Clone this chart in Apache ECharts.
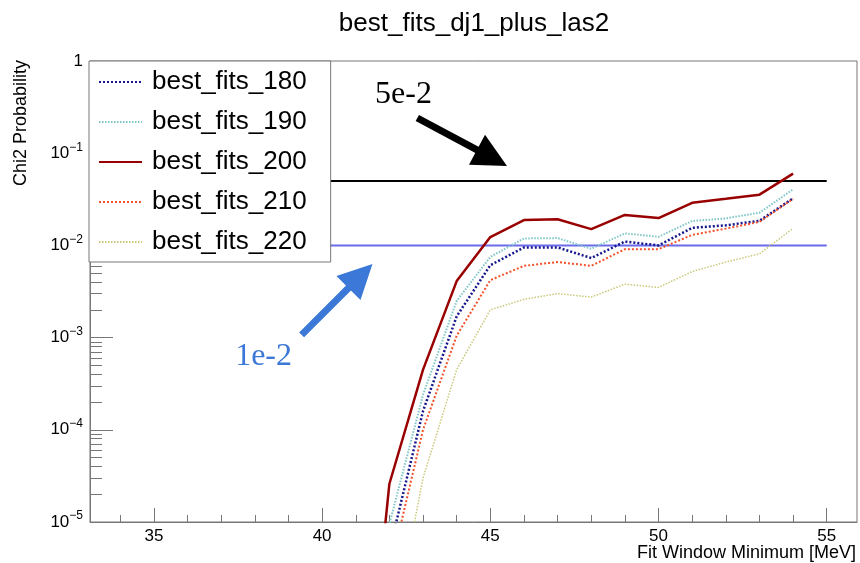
<!DOCTYPE html>
<html>
<head>
<meta charset="utf-8">
<script src="https://cdn.jsdelivr.net/npm/echarts@6/dist/echarts.min.js"></script>
<style>
  html, body { margin: 0; padding: 0; background: #fff; }
  #chart { width: 860px; height: 563px; }
</style>
</head>
<body>
<div id="chart"></div>
<script>
// fit window minimum (MeV)
const fitMin = [41, 42, 43, 44, 45, 46, 47, 48, 49, 50, 51, 52, 53, 54];

// chi2 probabilities (points below 1e-5 are rough guesses)
const fits180 = [1e-9, 4.9e-6, 1.6e-4, 1.7e-3, 6.1e-3, 9.5e-3, 9.5e-3, 7.3e-3, 1.1e-2, 1.0e-2, 1.55e-2, 1.65e-2, 1.85e-2, 3.24e-2];
const fits190 = [2e-9, 9.5e-6, 2.4e-4, 2.5e-3, 7.5e-3, 1.19e-2, 1.2e-2, 9.2e-3, 1.35e-2, 1.24e-2, 1.84e-2, 1.96e-2, 2.26e-2, 4.06e-2];
const fits200 = [7e-9, 2.6e-5, 4.5e-4, 4.1e-3, 1.23e-2, 1.88e-2, 1.92e-2, 1.5e-2, 2.14e-2, 1.98e-2, 2.9e-2, 3.2e-2, 3.55e-2, 6.0e-2];
const fits210 = [5e-10, 2.8e-6, 1.0e-4, 1.05e-3, 4.2e-3, 6.0e-3, 6.6e-3, 6.0e-3, 9.1e-3, 9.1e-3, 1.3e-2, 1.52e-2, 1.8e-2, 3.2e-2];
const fits220 = [1e-10, 4e-7, 3e-5, 4.5e-4, 2.0e-3, 2.6e-3, 3.0e-3, 2.75e-3, 3.8e-3, 3.5e-3, 5.2e-3, 6.6e-3, 8.1e-3, 1.53e-2];

// axes
const xRange = [33.1, 55.9];
const xMajorTicks = [35, 40, 45, 50, 55];
const xMinorTicks = [34, 36, 37, 38, 39, 41, 42, 43, 44, 46, 47, 48, 49, 51, 52, 53, 54];
const yRange = [1e-5, 1];
const yDecades = [-5, -4, -3, -2, -1];
const yMantissas = [2, 3, 4, 5, 6, 7, 8, 9];

// threshold lines + annotations
const refLevels = [0.05, 0.01];
const refLabels = ['5e-2', '1e-2'];
const refXRange = [33.1, 55];
const arrow5e2 = [[42.83, 0.241], [45.05, 0.089]];
const arrow1e2 = [[39.39, 1.07e-3], [41.14, 4.66e-3]];
const label5e2 = [42.42, 0.428];
const label1e2 = [38.26, 6.3e-4];

const FONT = 'Liberation Sans, Arial, sans-serif';
const SERIF = 'Liberation Serif, Times New Roman, serif';
const AXIS = '#777';

const fits = [
    { name: 'best_fits_180', values: fits180, color: '#15158c', width: 2.5, dash: [2, 2] },
    { name: 'best_fits_190', values: fits190, color: '#7ec6c6', width: 2, dash: [1.5, 1.5] },
    { name: 'best_fits_200', values: fits200, color: '#990000', width: 2.5, dash: 'solid' },
    { name: 'best_fits_210', values: fits210, color: '#f2522a', width: 2, dash: [2, 2] },
    { name: 'best_fits_220', values: fits220, color: '#c9c878', width: 1.5, dash: [1.5, 1.5] }
];

// minor ticks of the log axis, in log10 space for the overlay axis
const yMinorLog = [];
yDecades.forEach(e => yMantissas.forEach(m => yMinorLog.push(Math.log10(m) + e)));

const chart = echarts.init(document.getElementById('chart'), null, { renderer: 'canvas' });

const fitSeries = fits.map(f => ({
    name: f.name,
    type: 'line',
    data: fitMin.map((x, i) => [x, f.values[i]]),
    symbol: 'none',
    clip: true,
    z: 5,
    lineStyle: { color: f.color, width: f.width, type: f.dash, cap: 'butt' },
    itemStyle: { color: f.color }
}));

const refColors = ['#000000', '#6b6bec'];
const arrowColors = ['#000000', '#3b78d8'];
const arrows = [arrow5e2, arrow1e2];
const labels = [label5e2, label1e2];

const refSeries = refLevels.map((lvl, k) => ({
    name: 'ref' + k,
    type: 'line',
    data: refXRange.map(x => [x, lvl]),
    symbol: 'none',
    z: 3,
    silent: true,
    lineStyle: { color: refColors[k], width: 2 },
    markLine: {
        silent: true,
        symbol: ['none', 'triangle'],
        symbolSize: 34,
        label: { show: false },
        lineStyle: { color: arrowColors[k], width: 7, type: 'solid' },
        itemStyle: { color: arrowColors[k] },
        data: [[{ coord: arrows[k][0] }, { coord: arrows[k][1] }]]
    },
    markPoint: {
        silent: true,
        symbol: 'circle',
        symbolSize: 0,
        label: {
            show: true,
            position: 'inside',
            formatter: '{b}',
            fontFamily: SERIF,
            fontSize: 32,
            color: arrowColors[k]
        },
        data: [{ name: refLabels[k], coord: labels[k] }]
    }
}));

chart.setOption({
    animation: false,
    backgroundColor: '#fff',
    title: {
        text: 'best_fits_dj1_plus_las2',
        left: 474,
        top: 11,
        padding: 0,
        textAlign: 'center',
        textStyle: { fontFamily: FONT, fontSize: 26, fontWeight: 'normal', color: '#000' }
    },
    legend: {
        data: fits.map(f => f.name),
        orient: 'vertical',
        left: 89,
        top: 61,
        padding: [6, 24, 5, 9],
        itemWidth: 43,
        itemHeight: 14,
        itemGap: 10,
        backgroundColor: '#fff',
        borderColor: AXIS,
        borderWidth: 1,
        borderRadius: 0,
        selectedMode: false,
        itemStyle: { opacity: 0 },
        textStyle: { fontFamily: FONT, fontSize: 26, lineHeight: 30, color: '#000', padding: [0, 0, 0, 5] }
    },
    grid: {
        left: 90, right: 3, top: 61, bottom: 41,
        show: true, borderColor: AXIS, borderWidth: 1, backgroundColor: 'transparent'
    },
    xAxis: [
        {
            type: 'value',
            min: xRange[0], max: xRange[1],
            position: 'bottom',
            axisLine: { show: true, onZero: false, lineStyle: { color: AXIS, width: 1 } },
            axisTick: { show: true, inside: true, length: 14, customValues: xMajorTicks, lineStyle: { color: AXIS } },
            axisLabel: { customValues: xMajorTicks, margin: 6, fontFamily: FONT, fontSize: 17, color: '#000' },
            splitLine: { show: false }
        },
        {
            type: 'value',
            min: xRange[0], max: xRange[1],
            position: 'bottom',
            axisLine: { show: false, onZero: false },
            axisTick: { show: true, inside: true, length: 7, customValues: xMinorTicks, lineStyle: { color: AXIS } },
            axisLabel: { show: false },
            splitLine: { show: false }
        }
    ],
    yAxis: [
        {
            type: 'log',
            logBase: 10,
            min: yRange[0], max: yRange[1],
            position: 'left',
            axisLine: { show: true, onZero: false, lineStyle: { color: AXIS, width: 1 } },
            axisTick: { show: true, inside: true, length: 23, lineStyle: { color: AXIS } },
            axisLabel: {
                margin: 7,
                formatter: v => {
                    const e = Math.round(Math.log10(v));
                    return e === 0 ? '{b|1}' : '{b|10}{s|\u2212' + (-e) + '}';
                },
                rich: {
                    b: { fontFamily: FONT, fontSize: 17, lineHeight: 24, color: '#000' },
                    s: { fontFamily: FONT, fontSize: 12, lineHeight: 12, verticalAlign: 'top', color: '#000' }
                }
            },
            splitLine: { show: false }
        },
        {
            type: 'value',
            min: -5, max: 0,
            position: 'left',
            axisLine: { show: false, onZero: false },
            axisTick: { show: true, inside: true, length: 12, customValues: yMinorLog, lineStyle: { color: AXIS } },
            axisLabel: { show: false },
            splitLine: { show: false }
        }
    ],
    graphic: [
        {
            type: 'text', x: 21, y: 60, rotation: Math.PI / 2,
            style: { text: 'Chi2 Probability', font: '18px ' + FONT, fill: '#000', align: 'right', verticalAlign: 'middle' }
        },
        {
            type: 'text', x: 856, y: 553,
            style: { text: 'Fit Window Minimum [MeV]', font: '18px ' + FONT, fill: '#000', align: 'right', verticalAlign: 'middle' }
        }
    ],
    series: [...refSeries, ...fitSeries]
});
</script>
</body>
</html>
